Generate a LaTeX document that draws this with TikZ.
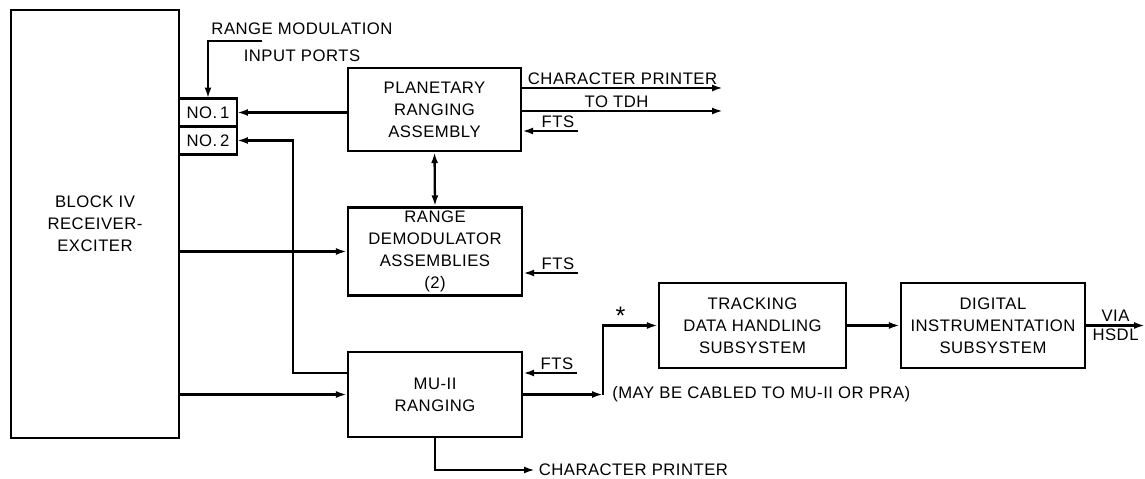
\documentclass[tikz,border=0pt]{standalone}
\usepackage{fontspec}
\setmainfont[LetterSpace=3]{Liberation Sans}
\usetikzlibrary{arrows.meta, positioning, calc}
\tikzset{
  every picture/.style={line width=1.3pt, font=\fontsize{9.5}{12.5}\selectfont},
  box/.style={draw, rectangle, align=center, inner sep=2pt},
  port/.style={minimum width=1.16cm, minimum height=0.56cm, outer sep=0pt},
  arrow/.style={-{Latex[length=2.2mm, width=1.4mm]}},
  biarrow/.style={{Latex[length=2.2mm, width=1.4mm]}-{Latex[length=2.2mm, width=1.4mm]}},
  note/.style={inner sep=1.5pt},
}

\begin{document}
\begin{tikzpicture}[x=0.02cm, y=-0.02cm]
  \useasboundingbox (0,0) rectangle (1145,479);
  \tikzset{unit/.style={box, minimum width=3.48cm, minimum height=1.7cm}}
  % receiver-exciter with its two range modulation input ports
  \node[box, minimum width=3.36cm, minimum height=8.56cm] (blk) at (95,224) {BLOCK IV\\RECEIVER-\\EXCITER};
  \node[box, port] (p1) at (208,112.5) {NO.\,1};
  \node[box, port, below=0pt of p1] (p2) {NO.\,2};
  \node[note, align=center] (rmt) at (302,42) {RANGE MODULATION\\[3pt]INPUT PORTS};
  \coordinate (rm) at (262,41);
  \draw[arrow] (rm) -| (p1.north);
  % ranging units
  \node[unit, minimum width=3.46cm, minimum height=1.66cm] (pra) at (434.5,109.5) {PLANETARY\\RANGING\\ASSEMBLY};
  \node[unit, minimum height=1.74cm] (rda) at (435,251.5) {RANGE\\DEMODULATOR\\ASSEMBLIES\\(2)};
  \node[unit] (mu) at (435,394.5) {MU-II\\RANGING};
  % data handling chain
  \node[unit, minimum width=3.74cm] (tdh) at (752.5,325.5) {TRACKING\\DATA HANDLING\\SUBSYSTEM};
  \node[unit, minimum width=3.68cm] (dis) at (993,325.5) {DIGITAL\\INSTRUMENTATION\\SUBSYSTEM};
  % free ends
  \coordinate (cp1) at (723,88);
  \coordinate (tt) at (723,111);
  \coordinate (fts1) at (578,131);
  \coordinate (fts2) at (578,273);
  \coordinate (fts3) at (577,373);
  \coordinate (jn) at (603,394.5);
  \coordinate (cp2) at (535,470);
  \coordinate (hsdl) at (1145,325.5);
  % connections
  \draw[arrow] (pra.west |- p1.east) -- (p1.east);
  \draw[arrow] ([yshift=4.3mm]mu.west) -| ([xshift=11.2mm]p2.east) -- (p2.east);
  \draw[arrow] (blk.east |- rda.west) -- (rda.west);
  \draw[arrow] (blk.east |- mu.west) -- (mu.west);
  \draw[biarrow] (pra.south) -- (rda.north);
  \draw[arrow] (cp1 -| pra.east) -- node[note, above]{CHARACTER PRINTER} (cp1);
  \draw[arrow] (tt -| pra.east) -- node[note, above, pos=0.47]{TO TDH} (tt);
  \draw[arrow] (fts1) node[note, above left]{FTS} -- (fts1 -| pra.east);
  \draw[arrow] (fts2) node[note, above left]{FTS} -- (fts2 -| rda.east);
  \draw[arrow] (fts3) node[note, above left]{FTS} -- (fts3 -| mu.east);
  \draw[arrow] (mu.east) -- (jn);
  \draw[arrow] (jn) |- node[note, above, pos=0.66, inner sep=0pt, font=\Large]{*} (tdh.west);
  \node[note, anchor=west] (cab) at ([xshift=1.1mm]jn) {(MAY BE CABLED TO MU-II OR PRA)};
  \draw[arrow] (mu.south) |- (cp2) node[note, right]{CHARACTER PRINTER};
  \draw[arrow] (tdh.east) -- (dis.west);
  \draw[arrow] (dis.east) -- node[note, above]{VIA} node[note, below]{HSDL} (hsdl);
\end{tikzpicture}
\end{document}
